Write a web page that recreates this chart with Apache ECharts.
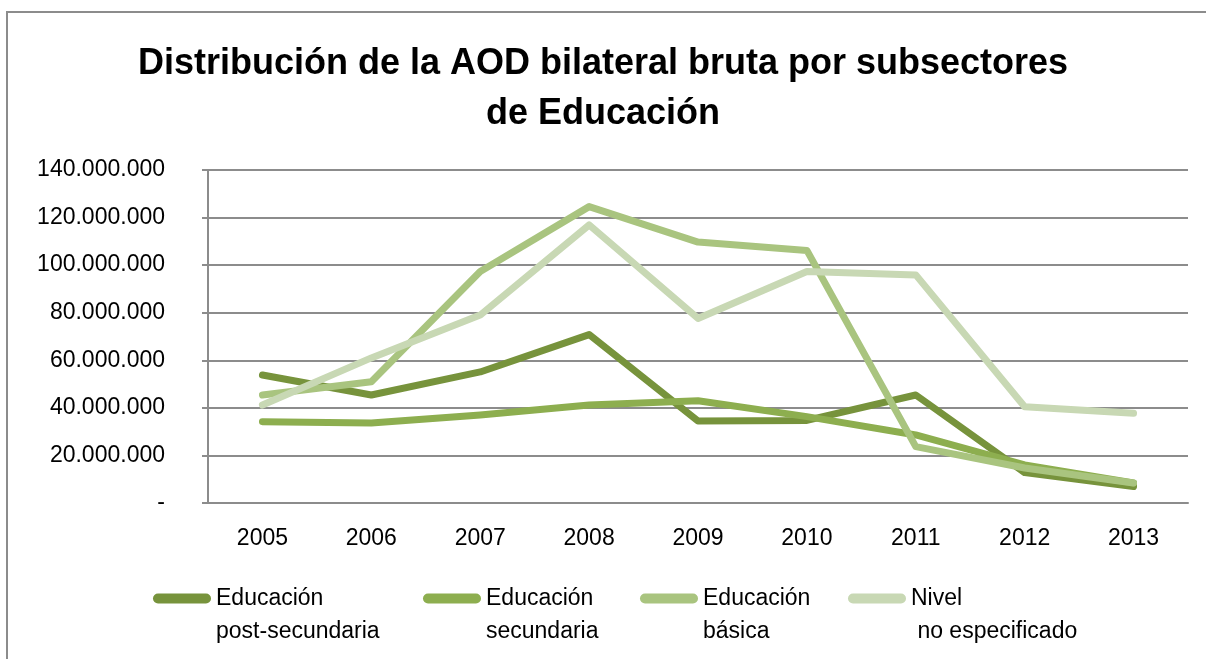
<!DOCTYPE html>
<html>
<head>
<meta charset="utf-8">
<script src="https://cdn.jsdelivr.net/npm/echarts@6/dist/echarts.min.js"></script>
<style>
  html, body { margin: 0; padding: 0; background: #fff; }
  #main { width: 1206px; height: 659px; }
</style>
</head>
<body>
<div id="main"></div>
<script>
// años
var years = ['2005', '2006', '2007', '2008', '2009', '2010', '2011', '2012', '2013'];
// nombres de las series (legend con salto de línea)
var seriesNames = ['Educación\npost-secundaria', 'Educación\nsecundaria', 'Educación\nbásica', 'Nivel\n no especificado'];
// valores (euros)
var postSecundaria = [53800000, 45400000, 55100000, 70800000, 34500000, 34700000, 45400000, 12800000, 6900000];
var secundaria = [34200000, 33600000, 37000000, 41200000, 43000000, 36300000, 28600000, 16000000, 8400000];
var basica = [45400000, 51000000, 97300000, 124600000, 109700000, 106200000, 23700000, 14700000, 8400000];
var noEspecificado = [41200000, 61000000, 79000000, 116900000, 77600000, 97300000, 95900000, 40500000, 37700000];
var yTicks = [0, 20000000, 40000000, 60000000, 80000000, 100000000, 120000000, 140000000];

var colors = ['#77933c', '#8dae4f', '#a9c47f', '#c8d8b4'];
var legendLeft = [148, 418, 635, 843];

function fmtMiles(v) {
  if (v === 0) return '-';
  return String(v).replace(/\B(?=(\d{3})+(?!\d))/g, '.');
}

var myChart = echarts.init(document.getElementById('main'));

var datos = [postSecundaria, secundaria, basica, noEspecificado];
var series = seriesNames.map(function (name, i) {
  return {
    name: name,
    type: 'line',
    data: datos[i],
    showSymbol: false,
    symbol: 'none',
    lineStyle: { width: 7, color: colors[i], cap: 'round', join: 'round' },
    itemStyle: { color: colors[i] }
  };
});

// una leyenda por serie, para colocarlas como en el original
var legends = seriesNames.map(function (name, i) {
  return {
    left: legendLeft[i],
    top: 544,
    itemWidth: 58,
    itemHeight: 10,
    icon: 'path://M5,0 L53,0 A5,5 0 0 1 53,10 L5,10 A5,5 0 0 1 5,0 Z',
    data: [name],
    // línea vacía delante para que el icono quede a la altura de la primera línea
    formatter: function (n) { return ' \n' + n; },
    textStyle: {
      fontFamily: 'Liberation Sans',
      fontSize: 23,
      color: '#000',
      lineHeight: 33
    }
  };
});

myChart.setOption({
  animation: false,
  color: colors,
  title: {
    text: 'Distribución de la AOD bilateral bruta por subsectores\nde Educación',
    left: 'center',
    top: 34,
    textStyle: {
      fontFamily: 'Liberation Sans',
      fontWeight: 'bold',
      fontSize: 36,
      lineHeight: 50,
      color: '#000'
    }
  },
  legend: legends,
  graphic: [{
    type: 'rect',
    shape: { x: 7, y: 12, width: 1250, height: 700 },
    style: { fill: 'none', stroke: '#8c8c8c', lineWidth: 2 },
    silent: true
  }],
  grid: {
    left: 208,
    right: 18,
    top: 170,
    bottom: 156
  },
  xAxis: {
    type: 'category',
    data: years,
    boundaryGap: true,
    axisLine: { show: true, lineStyle: { color: '#8c8c8c', width: 2 } },
    axisTick: { show: false },
    axisLabel: {
      margin: 24,
      fontFamily: 'Liberation Sans',
      fontSize: 23,
      color: '#000'
    }
  },
  yAxis: {
    type: 'value',
    min: 0,
    max: 140000000,
    interval: 20000000,
    axisLine: { show: true, lineStyle: { color: '#8c8c8c', width: 2 } },
    axisTick: { show: true, length: 6, lineStyle: { color: '#8c8c8c', width: 2 } },
    splitLine: { show: true, lineStyle: { color: '#8c8c8c', width: 2 } },
    axisLabel: {
      margin: 43,
      fontFamily: 'Liberation Sans',
      fontSize: 23,
      color: '#000',
      formatter: function (v) {
        return yTicks.indexOf(v) >= 0 ? fmtMiles(v) : '';
      }
    }
  },
  series: series
});
</script>
</body>
</html>
